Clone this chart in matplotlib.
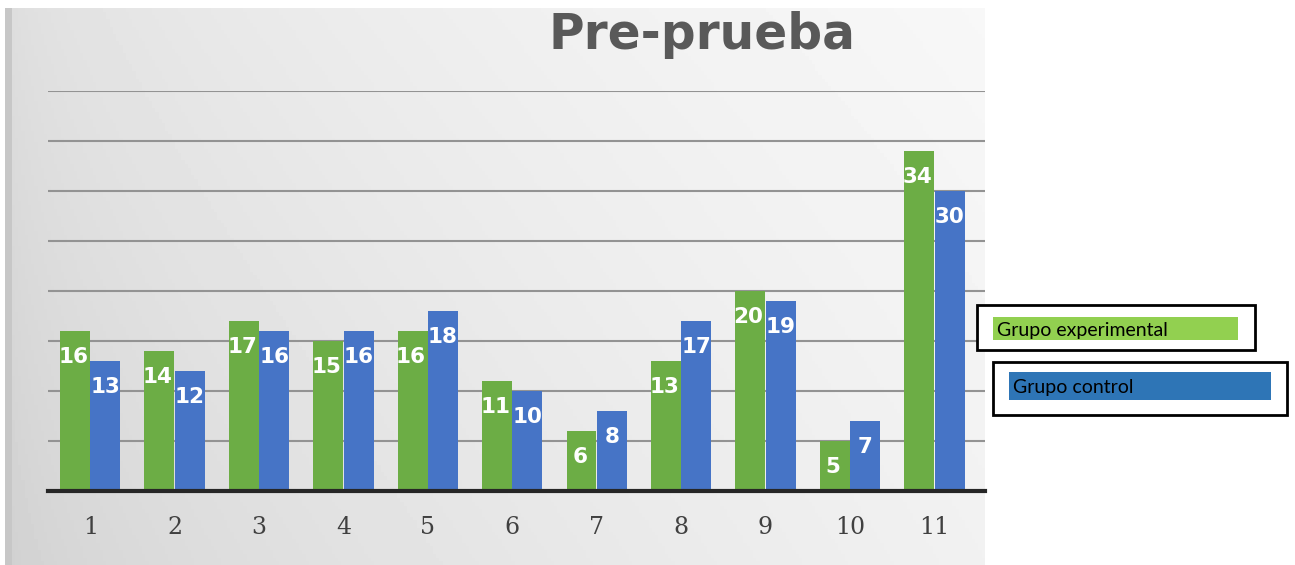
import numpy as np
import matplotlib
matplotlib.use('Agg')
import matplotlib.pyplot as plt
from matplotlib.patches import Rectangle

categories = ['1', '2', '3', '4', '5', '6', '7', '8', '9', '10', '11']
experimental = [16, 14, 17, 15, 16, 11, 6, 13, 20, 5, 34]
control = [13, 12, 16, 16, 18, 10, 8, 17, 19, 7, 30]
series_names = ['Grupo experimental', 'Grupo control']

W, H = 1295, 565
fig = plt.figure(figsize=(W / 100, H / 100), dpi=100)
fig.patch.set_facecolor('white')

def fx(px):
    return px / W

def fy(py):
    return 1 - py / H

# gray gradient background of the pasted chart picture
bg = fig.add_axes([fx(5), fy(565), fx(985) - fx(5), fy(8) - fy(565)])
gx = np.linspace(0, 1, 300)
gy = np.linspace(0, 1, 150)[:, None]
grad = 0.86 + 0.11 * np.sqrt(gx)[None, :] - 0.05 * gy * (1 - 0.5 * gx[None, :])
grad = np.clip(grad, 0, 1)
grad[:, :2] = 0.78
bg.imshow(grad, cmap='gray', vmin=0, vmax=1, aspect='auto', extent=[0, 1, 1, 0])
bg.set_axis_off()

ax = fig.add_axes([fx(48), fy(491), fx(985) - fx(48), fy(91) - fy(491)])
ax.patch.set_alpha(0)
x = np.arange(1, len(categories) + 1)
w = 0.355
green = '#6cad45'
blue = '#4674c6'
ax.bar(x - 0.18, experimental, w, color=green, edgecolor='none', zorder=3)
ax.bar(x + 0.18, control, w, color=blue, edgecolor='none', zorder=3)

for xi, v in zip(x, experimental):
    ax.annotate(str(v), (xi - 0.2, v), xytext=(0, -19), textcoords='offset points',
                ha='center', va='center', color='white', fontsize=15.5, fontweight='bold', zorder=4)
for xi, v in zip(x, control):
    ax.annotate(str(v), (xi + 0.18, v), xytext=(0, -19), textcoords='offset points',
                ha='center', va='center', color='white', fontsize=15.5, fontweight='bold', zorder=4)

ax.set_xlim(0.5, 11.6)
ax.set_ylim(0, 40)
ax.set_yticks(np.arange(5, 41, 5))
ax.yaxis.grid(True, color='#939393', linewidth=1.5, zorder=1)
ax.tick_params(axis='y', left=False, labelleft=False)
ax.set_xticks(x)
ax.set_xticklabels(categories, fontsize=17, color='#404040', family='DejaVu Serif')
ax.tick_params(axis='x', length=0, pad=18)
for s in ['top', 'right', 'left']:
    ax.spines[s].set_visible(False)
ax.spines['bottom'].set_color('#262626')
ax.spines['bottom'].set_linewidth(3)
ax.spines['bottom'].set_zorder(5)

fig.text(fx(702), fy(35), 'Pre-prueba', ha='center', va='center', fontsize=35,
         fontweight='bold', color='#595959')

# legend boxes drawn as in the document
legend_boxes = [
    ((977, 305, 1255, 350), (993, 317, 1238, 340), '#92d050'),
    ((993, 362, 1287, 415), (1009, 372, 1271, 400), '#2e75b6'),
]
for (bx0, by0, bx1, by1), (cx0, cy0, cx1, cy1), col in legend_boxes:
    fig.patches.append(Rectangle((fx(bx0), fy(by1)), fx(bx1) - fx(bx0), fy(by0) - fy(by1),
                                 transform=fig.transFigure, facecolor='white',
                                 edgecolor='black', linewidth=2, zorder=10))
    fig.patches.append(Rectangle((fx(cx0), fy(cy1)), fx(cx1) - fx(cx0), fy(cy0) - fy(cy1),
                                 transform=fig.transFigure, facecolor=col,
                                 edgecolor='none', zorder=11))
for name, (_, (cx0, cy0, cx1, cy1), _) in zip(series_names, legend_boxes):
    fig.text(fx(cx0 + 4), fy((cy0 + cy1) / 2 + 2), name, ha='left', va='center',
             fontsize=14, color='black', family='Lato', zorder=12)

fig.savefig('out.png', dpi=100)
